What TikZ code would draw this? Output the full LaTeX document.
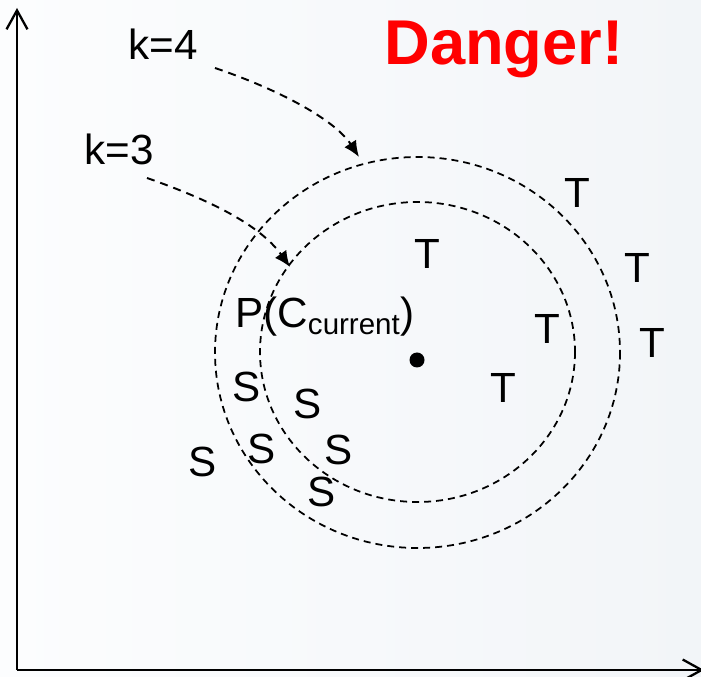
\documentclass[tikz,border=0pt]{standalone}
\usepackage{fontspec}
\setmainfont{Liberation Sans}
\usepackage{tikz}
\usetikzlibrary{arrows.meta}
\definecolor{dangerred}{HTML}{FF0000}
\definecolor{bgleft}{HTML}{FCFDFE}
\definecolor{bgright}{HTML}{F2F5F8}

\begin{document}
\begin{tikzpicture}[x=0.2mm,y=-0.2mm,
 axis/.style={line width=1.3pt,-{Straight Barb[length=3.8mm,width=4.2mm]}},
 ring/.style={draw=black,line width=1pt,dash pattern=on 1.4mm off 1mm},
 pointer/.style={line width=1.1pt,dash pattern=on 1.6mm off 1.2mm,-{Latex[length=3.2mm,width=2.8mm]}},
 klabel/.style={font=\fontsize{24}{28}\selectfont,anchor=base,inner sep=0pt},
 pt/.style={font=\fontsize{24}{28}\selectfont,anchor=base,inner sep=0pt},
 warn/.style={font=\fontsize{36}{40}\selectfont\bfseries,text=dangerred,anchor=base,inner sep=0pt},
 centredot/.style={circle,fill=black,minimum size=3.0mm,inner sep=0pt}]

% background, also fixes the bounding box
\useasboundingbox (0,0) rectangle (701,677);
\shade[left color=bgleft,right color=bgright] (0,0) rectangle (701,677);

% axes
\coordinate (origin) at (17,670);
\coordinate (yend) at (17,8);
\coordinate (xend) at (704,670);
\draw[axis] (origin) -- (yend);
\draw[axis] (origin) -- (xend);

% the two neighbourhoods round the current point
\node[centredot] (centre) at (417,360) {};
\draw[ring] (417.5,352.5) ellipse [x radius=202.5,y radius=195.5];
\draw[ring] (417.5,352) ellipse [x radius=157.5,y radius=150];

% labels and pointers
\node[klabel] (kfour) at (163,60) {k=4};
\node[klabel] (kthree) at (119,165) {k=3};
\node[warn] (danger) at (504,65) {Danger!};
\coordinate (kfourtail) at (215,68);
\coordinate (kfourtip) at (359,157);
\coordinate (kthreetail) at (147,178);
\coordinate (kthreetip) at (290,267);
\draw[pointer] (kfourtail) .. controls (280,90) and (335,120) .. (kfourtip);
\draw[pointer] (kthreetail) .. controls (210,200) and (260,225) .. (kthreetip);

\node[pt,anchor=base west] (pcur) at (235,328) {P(C\textsubscript{current})};

% S points (left) and T points (right)
\foreach \x/\y [count=\i] in {247/402,308/419,262/464,339/465,203/477,322/507}
  \node[pt] (s\i) at (\x,\y) {S};
\foreach \x/\y [count=\i] in {577/208,427/269,637/283,547/344,652/358,503/403}
  \node[pt] (t\i) at (\x,\y) {T};
\end{tikzpicture}
\end{document}
